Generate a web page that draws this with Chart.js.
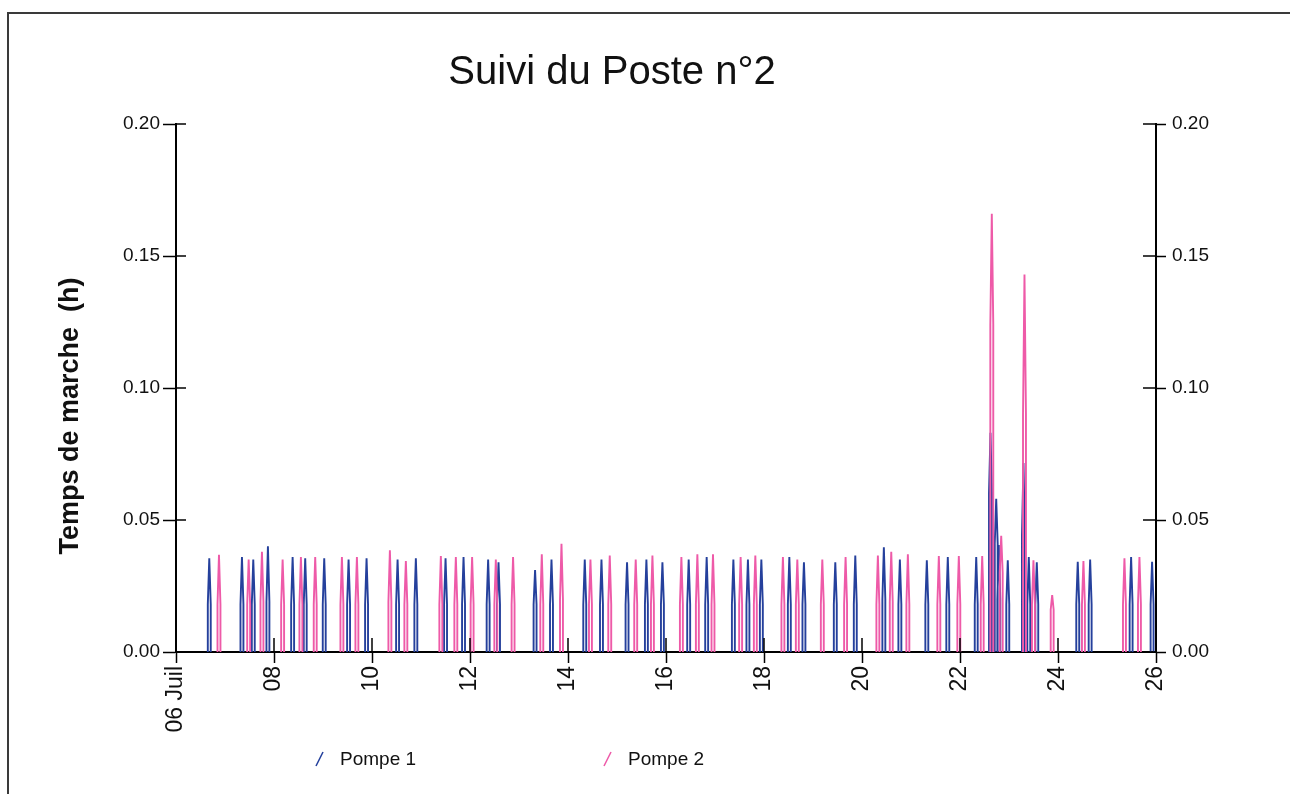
<!DOCTYPE html>
<html><head><meta charset="utf-8">
<script src="https://cdn.jsdelivr.net/npm/chart.js@4/dist/chart.umd.min.js"></script>
<style>html,body{margin:0;padding:0;background:#fff;}#wrap{position:relative;width:1290px;height:794px;}</style>
</head><body><div id="wrap"><canvas id="c" width="1290" height="794"></canvas></div>
<script>
const chartTitle = 'Suivi du Poste n°2';
const yAxisTitle = 'Temps de marche  (h)';
const seriesNames = ['Pompe 1', 'Pompe 2'];
const seriesColors = ['#25409c', '#ee5aa8'];
const xTickValues = [6, 8, 10, 12, 14, 16, 18, 20, 22, 24, 26];
const xTickLabels = ['06 Juil', '08', '10', '12', '14', '16', '18', '20', '22', '24', '26'];
const yTickValues = [0, 0.05, 0.10, 0.15, 0.20];
const yTickLabels = ['0.00', '0.05', '0.10', '0.15', '0.20'];

// Pompe 1 : day of July of each run, peak value (h), intermediate step (h)
const pompe1Times = [6.679, 7.346, 7.577, 7.876, 8.380, 8.637, 9.025, 9.522, 9.889, 10.522, 10.895, 11.501, 11.868, 12.370, 12.582, 13.328, 13.663, 14.342, 14.683, 15.205, 15.600, 15.927, 16.463, 16.830, 17.375, 17.672, 17.946, 18.517, 18.815, 19.455, 19.863, 20.446, 20.773, 21.323, 21.751, 22.331, 22.622, 22.739, 22.792, 22.975, 23.295, 23.404, 23.567, 24.403, 24.656, 25.492, 25.920];
const pompe1Peaks = [0.0355, 0.036, 0.035, 0.040, 0.036, 0.0355, 0.0355, 0.035, 0.0355, 0.035, 0.0355, 0.0355, 0.036, 0.035, 0.034, 0.031, 0.035, 0.035, 0.035, 0.034, 0.035, 0.034, 0.035, 0.036, 0.035, 0.035, 0.035, 0.036, 0.034, 0.034, 0.0365, 0.0397, 0.035, 0.0347, 0.036, 0.036, 0.083, 0.058, 0.0405, 0.0347, 0.0716, 0.036, 0.034, 0.0342, 0.035, 0.036, 0.0342];
const pompe1Mids = [0.018, 0.018, 0.018, 0.019, 0.018, 0.018, 0.018, 0.018, 0.018, 0.018, 0.018, 0.018, 0.018, 0.018, 0.018, 0.018, 0.018, 0.018, 0.018, 0.018, 0.018, 0.018, 0.018, 0.018, 0.018, 0.018, 0.018, 0.018, 0.018, 0.018, 0.018, 0.020, 0.018, 0.018, 0.018, 0.018, 0.060, 0.041, 0.020, 0.018, 0.044, 0.018, 0.018, 0.018, 0.018, 0.018, 0.018];

// Pompe 2
const pompe2Times = [6.877, 7.483, 7.754, 8.176, 8.549, 8.841, 9.386, 9.692, 10.365, 10.691, 11.405, 11.711, 12.043, 12.527, 12.879, 13.465, 13.867, 14.458, 14.852, 15.382, 15.723, 16.314, 16.640, 16.959, 17.523, 17.823, 18.386, 18.680, 19.190, 19.665, 20.324, 20.597, 20.936, 21.568, 21.976, 22.453, 22.649, 22.841, 23.316, 23.499, 23.881, 24.519, 25.356, 25.662];
const pompe2Peaks = [0.0368, 0.035, 0.038, 0.035, 0.036, 0.036, 0.036, 0.036, 0.0385, 0.0345, 0.0364, 0.036, 0.036, 0.035, 0.036, 0.037, 0.041, 0.035, 0.0365, 0.035, 0.0365, 0.036, 0.037, 0.037, 0.036, 0.0365, 0.036, 0.035, 0.035, 0.036, 0.0365, 0.038, 0.037, 0.0364, 0.0364, 0.0364, 0.166, 0.044, 0.143, 0.0347, 0.0216, 0.0345, 0.0355, 0.036];
const pompe2Mids = [0.018, 0.018, 0.019, 0.018, 0.018, 0.018, 0.018, 0.018, 0.019, 0.018, 0.018, 0.018, 0.018, 0.018, 0.018, 0.018, 0.020, 0.018, 0.018, 0.018, 0.018, 0.018, 0.018, 0.018, 0.018, 0.018, 0.018, 0.018, 0.018, 0.018, 0.018, 0.019, 0.018, 0.018, 0.018, 0.018, 0.124, 0.030, 0.090, 0.018, 0.016, 0.018, 0.018, 0.018];

const pulseHalfWidth = 0.03; // half width (days) of each drawn run

function buildPulses(times, peaks, mids) {
  const w = pulseHalfWidth;
  const pts = [];
  times.forEach((t, i) => {
    pts.push({x: t - w, y: 0}, {x: t - w, y: mids[i]}, {x: t, y: peaks[i]},
             {x: t + w, y: mids[i]}, {x: t + w, y: 0}, {x: t + w, y: null});
  });
  return pts;
}

const FONT = "'Liberation Sans', Arial, sans-serif";

const decor = {
  id: 'decor',
  beforeDraw(chart) {
    const ctx = chart.ctx;
    ctx.save();
    ctx.strokeStyle = '#3a3a3a';
    ctx.lineWidth = 2;
    ctx.strokeRect(8, 13, 1320, 820);
    ctx.restore();
  },
  afterDraw(chart) {
    const {ctx, chartArea: a, scales: {x, y}} = chart;
    ctx.save();
    ctx.strokeStyle = '#000';
    ctx.lineWidth = 1.5;
    const seg = (x1, y1, x2, y2) => { ctx.beginPath(); ctx.moveTo(x1, y1); ctx.lineTo(x2, y2); ctx.stroke(); };
    xTickValues.forEach(v => { const px = x.getPixelForValue(v); seg(px, a.bottom, px, a.bottom - 14); });
    yTickValues.forEach(v => {
      const py = y.getPixelForValue(v);
      seg(a.left, py, a.left + 10, py);
      seg(a.right, py, a.right - 13, py);
    });
    // title
    ctx.fillStyle = '#111';
    ctx.font = '40px ' + FONT;
    ctx.textAlign = 'center';
    ctx.textBaseline = 'alphabetic';
    ctx.fillText(chartTitle, 612, 84);
    // y axis title
    ctx.save();
    ctx.translate(71, 416);
    ctx.rotate(-Math.PI / 2);
    ctx.font = 'bold 27px ' + FONT;
    ctx.textBaseline = 'middle';
    ctx.fillText(yAxisTitle, 0, 0);
    ctx.restore();
    // legend
    const legendX = [315, 603];
    chart.data.datasets.forEach((ds, i) => {
      const lx = legendX[i];
      ctx.strokeStyle = ds.borderColor;
      ctx.lineWidth = 1.5;
      seg(lx + 1, 766, lx + 8, 752);
      ctx.fillStyle = '#111';
      ctx.font = '19px ' + FONT;
      ctx.textAlign = 'left';
      ctx.textBaseline = 'alphabetic';
      ctx.fillText(ds.label, lx + 25, 765);
    });
    ctx.restore();
  }
};

const tickFontY = {family: FONT, size: 19};
new Chart(document.getElementById('c'), {
  type: 'line',
  data: {
    datasets: [
      {label: seriesNames[0], data: buildPulses(pompe1Times, pompe1Peaks, pompe1Mids), borderColor: seriesColors[0], borderWidth: 1.9, pointRadius: 0, tension: 0, spanGaps: false, order: 1, yAxisID: 'y'},
      {label: seriesNames[1], data: buildPulses(pompe2Times, pompe2Peaks, pompe2Mids), borderColor: seriesColors[1], borderWidth: 1.9, pointRadius: 0, tension: 0, spanGaps: false, order: 0, yAxisID: 'y'}
    ]
  },
  options: {
    responsive: false,
    animation: false,
    layout: {padding: {top: 124, left: 0, right: 0, bottom: 0}},
    plugins: {legend: {display: false}, title: {display: false}, tooltip: {enabled: false}},
    scales: {
      x: {
        type: 'linear', position: 'bottom', min: 6, max: 26,
        afterBuildTicks: s => { s.ticks = xTickValues.map(v => ({value: v})); },
        afterFit: s => { s.height = 142; },
        ticks: {autoSkip: false, minRotation: 90, maxRotation: 90, padding: 3, color: '#111',
                font: {family: FONT, size: 23},
                callback: v => xTickLabels[xTickValues.indexOf(v)]},
        grid: {drawOnChartArea: false, drawTicks: true, tickLength: 11, tickColor: '#000', tickWidth: 1.5},
        border: {display: true, color: '#000', width: 2}
      },
      y: {
        type: 'linear', position: 'left', min: 0, max: 0.2,
        afterBuildTicks: s => { s.ticks = yTickValues.map(v => ({value: v})); },
        afterFit: s => { s.width = 176; },
        ticks: {padding: 3, color: '#111', font: tickFontY,
                callback: v => yTickLabels[yTickValues.indexOf(v)]},
        grid: {drawOnChartArea: false, drawTicks: true, tickLength: 13, tickColor: '#000', tickWidth: 1.5},
        border: {display: true, color: '#000', width: 2}
      },
      y2: {
        type: 'linear', position: 'right', min: 0, max: 0.2,
        afterBuildTicks: s => { s.ticks = yTickValues.map(v => ({value: v})); },
        afterFit: s => { s.width = 134; },
        ticks: {padding: 6, color: '#111', font: tickFontY,
                callback: v => yTickLabels[yTickValues.indexOf(v)]},
        grid: {drawOnChartArea: false, drawTicks: true, tickLength: 10, tickColor: '#000', tickWidth: 1.5},
        border: {display: true, color: '#000', width: 2}
      }
    }
  },
  plugins: [decor]
});
</script></body></html>
